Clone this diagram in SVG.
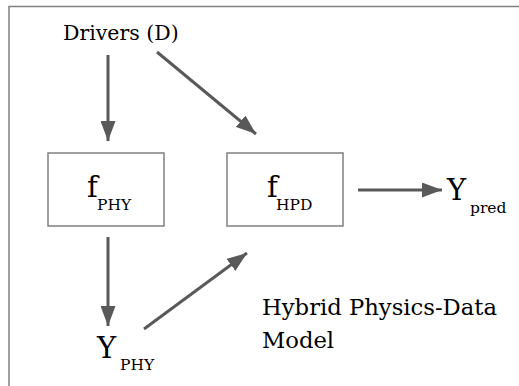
<svg xmlns="http://www.w3.org/2000/svg" width="519" height="386" viewBox="0 0 519 386">
<style>
text{font-family:'DejaVu Serif',serif;fill:#000}
.box{fill:#fff;stroke:#808080;stroke-width:1.5}
.c{stroke:#595959;stroke-width:3;fill:none;marker-end:url(#ah)}
.main{font-size:29px}
.sub{font-size:15.5px}
</style>
<defs>
<marker id="ah" viewBox="0 0 20 15" refX="20" refY="7.5" markerWidth="20" markerHeight="15" markerUnits="userSpaceOnUse" orient="auto">
<path d="M0,0 L20,7.5 L0,15 z" fill="#595959"/>
</marker>
</defs>
<rect x="0" y="0" width="519" height="386" fill="#fff"/>
<rect x="9" y="6.5" width="600" height="500" fill="none" stroke="#808080" stroke-width="1.5"/>
<g id="connectors">
<line class="c" x1="108" y1="55" x2="108" y2="141"/>
<line class="c" x1="157" y1="52" x2="256" y2="134"/>
<line class="c" x1="108" y1="237" x2="108" y2="326"/>
<line class="c" x1="144" y1="329" x2="247" y2="253"/>
<line class="c" x1="358" y1="190" x2="442" y2="190"/>
</g>
<g id="drivers"><text x="63" y="40" font-size="20.5">Drivers (D)</text></g>
<g id="fphy">
<rect class="box" x="48" y="153" width="116" height="73"/>
<text class="main" x="87" y="197">f</text>
<text class="sub" x="97" y="210">PHY</text>
</g>
<g id="fhpd">
<rect class="box" x="227" y="153" width="116" height="73"/>
<text class="main" x="267" y="197">f</text>
<text class="sub" x="276" y="210">HPD</text>
</g>
<g id="ypred">
<text class="main" x="447" y="200">Y</text>
<text class="sub" x="470" y="213">pred</text>
</g>
<g id="yphy">
<text class="main" x="97" y="358">Y</text>
<text class="sub" x="120" y="370">PHY</text>
</g>
<g id="label">
<text x="262" y="315" font-size="22.7">Hybrid Physics-Data</text>
<text x="262" y="348" font-size="22.7">Model</text>
</g>
</svg>
